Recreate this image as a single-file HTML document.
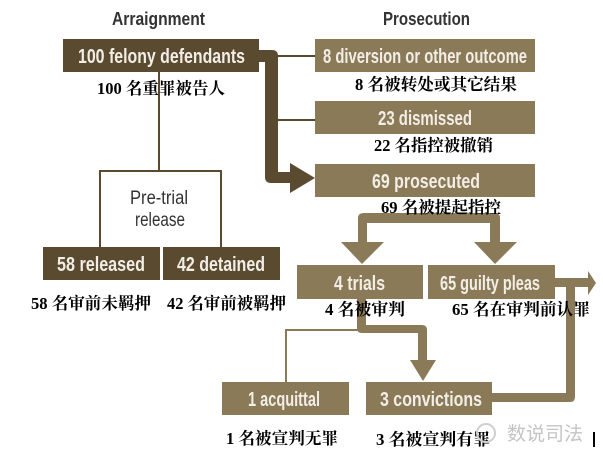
<!DOCTYPE html>
<html><head><meta charset="utf-8"><style>
html,body{margin:0;padding:0;background:#fff;}
svg{display:block;}
.bt{font-family:"Liberation Sans",sans-serif;font-weight:bold;fill:#f2eee6;font-size:20px;}
.hd{font-family:"Liberation Sans",sans-serif;font-weight:bold;fill:#333;font-size:18.5px;}
.cn{font-family:"Liberation Serif","Noto Serif CJK SC",serif;font-weight:bold;fill:#000;font-size:16.5px;}
.pt{font-family:"Liberation Sans",sans-serif;font-size:19px;fill:#333;}
</style></head><body>
<svg width="603" height="463" viewBox="0 0 603 463" xmlns="http://www.w3.org/2000/svg">
<text x="112" y="25" class="hd" textLength="93" lengthAdjust="spacingAndGlyphs">Arraignment</text>
<text x="383" y="25" class="hd" textLength="87" lengthAdjust="spacingAndGlyphs">Prosecution</text>

<line x1="159" y1="72" x2="159" y2="171" stroke="#5a4a30" stroke-width="2"/>
<polyline points="100,247 100,171 221,171 221,247" fill="none" stroke="#5a4a30" stroke-width="2"/>
<line x1="270" y1="56" x2="316" y2="56" stroke="#5a4a30" stroke-width="2"/>
<line x1="270" y1="120" x2="316" y2="120" stroke="#5a4a30" stroke-width="2"/>
<polyline points="286,382 286,330 360,330" fill="none" stroke="#8a7a58" stroke-width="2"/>

<path d="M255,50 H272 Q278,50 278,56 V172 H290 V163 L315,178 L290,193 V183 H271 Q265,183 265,177 V62 H255 Z" fill="#5a4a30"/>

<path d="M358,243 V218 Q358,213 364,213 H495 Q500,213 500,218 V243 H490 V223 H367 V243 Z" fill="#8a7a58"/>
<polygon points="341,242 384,242 362,264" fill="#8a7a58"/>
<polygon points="474,242 517,242 495,264" fill="#8a7a58"/>

<path d="M357,299 H366 V325 H422 Q427,325 427,330 V362 H418 V333 H362 Q357,333 357,328 Z" fill="#8a7a58"/>
<polygon points="410,360 436,360 423,381" fill="#8a7a58"/>

<rect x="553" y="278" width="37" height="9" fill="#8a7a58"/>
<polygon points="588,271 596,283 588,295" fill="#8a7a58"/>
<path d="M566,287 H575 V397 Q575,402 570,402 H490 V393 H566 Z" fill="#8a7a58"/>

<rect x="63" y="39" width="196" height="33" fill="#5a4a30"/>
<text x="78" y="63" class="bt" textLength="167" lengthAdjust="spacingAndGlyphs">100 felony defendants</text>
<rect x="43" y="247" width="117" height="33" fill="#5a4a30"/>
<text x="57" y="271" class="bt" textLength="88" lengthAdjust="spacingAndGlyphs">58 released</text>
<rect x="163" y="247" width="117" height="33" fill="#5a4a30"/>
<text x="177" y="271" class="bt" textLength="88" lengthAdjust="spacingAndGlyphs">42 detained</text>
<text x="130" y="204" class="pt" textLength="58" lengthAdjust="spacingAndGlyphs">Pre-trial</text>
<text x="135" y="226" class="pt" textLength="50" lengthAdjust="spacingAndGlyphs">release</text>

<rect x="315" y="39" width="220" height="33" fill="#8a7a58"/>
<text x="323" y="63" class="bt" textLength="204" lengthAdjust="spacingAndGlyphs">8 diversion or other outcome</text>
<rect x="315" y="101" width="220" height="33" fill="#8a7a58"/>
<text x="378" y="125" class="bt" textLength="94" lengthAdjust="spacingAndGlyphs">23 dismissed</text>
<rect x="315" y="164" width="220" height="33" fill="#8a7a58"/>
<text x="372" y="188" class="bt" textLength="108" lengthAdjust="spacingAndGlyphs">69 prosecuted</text>

<rect x="297" y="265" width="126" height="34" fill="#8a7a58"/>
<text x="334" y="290" class="bt" textLength="51" lengthAdjust="spacingAndGlyphs">4 trials</text>
<rect x="428" y="265" width="127" height="34" fill="#8a7a58"/>
<text x="440" y="290" class="bt" textLength="100" lengthAdjust="spacingAndGlyphs">65 guilty pleas</text>
<rect x="222" y="382" width="127" height="33" fill="#8a7a58"/>
<text x="248" y="406" class="bt" textLength="72" lengthAdjust="spacingAndGlyphs">1 acquittal</text>
<rect x="366" y="382" width="126" height="33" fill="#8a7a58"/>
<text x="380" y="406" class="bt" textLength="102" lengthAdjust="spacingAndGlyphs">3 convictions</text>

<text x="97" y="94" class="cn" textLength="128" lengthAdjust="spacingAndGlyphs">100 名重罪被告人</text>
<text x="355" y="90" class="cn" textLength="162" lengthAdjust="spacingAndGlyphs">8 名被转处或其它结果</text>
<text x="374" y="151" class="cn" textLength="119" lengthAdjust="spacingAndGlyphs">22 名指控被撤销</text>
<text x="381" y="213" class="cn" textLength="120" lengthAdjust="spacingAndGlyphs">69 名被提起指控</text>
<text x="31" y="309" class="cn" textLength="120" lengthAdjust="spacingAndGlyphs">58 名审前未羁押</text>
<text x="167" y="309" class="cn" textLength="119" lengthAdjust="spacingAndGlyphs">42 名审前被羁押</text>
<text x="325" y="315" class="cn" textLength="80" lengthAdjust="spacingAndGlyphs">4 名被审判</text>
<text x="452" y="315" class="cn" textLength="138" lengthAdjust="spacingAndGlyphs">65 名在审判前认罪</text>
<text x="226" y="444" class="cn" textLength="112" lengthAdjust="spacingAndGlyphs">1 名被宣判无罪</text>
<text x="376" y="445" class="cn" textLength="114" lengthAdjust="spacingAndGlyphs">3 名被宣判有罪</text>
<text x="507" y="440" font-family="Noto Sans CJK SC,sans-serif" font-size="19" fill="#c4c4c4">数说司法</text>
<circle cx="486" cy="433" r="9" fill="none" stroke="#d0d0d0" stroke-width="2"/>
<rect x="593" y="432" width="2" height="15" fill="#000"/>
</svg>
</body></html>
